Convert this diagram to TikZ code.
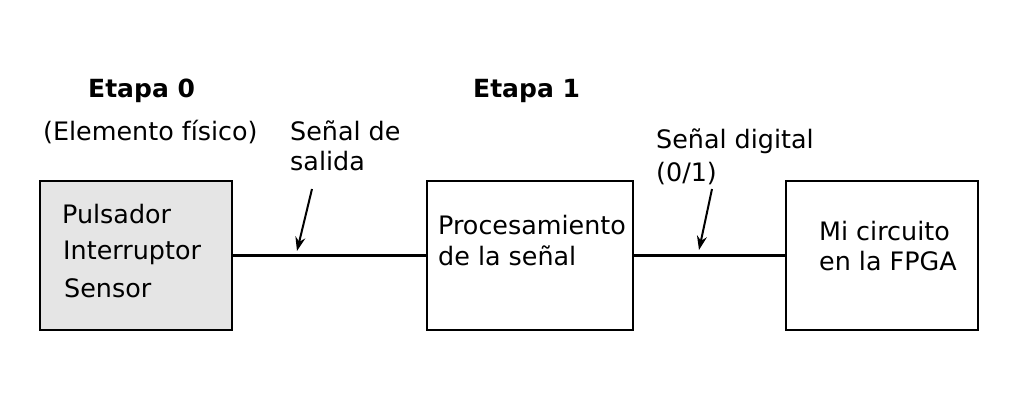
\documentclass[tikz,border=0pt]{standalone}
\usepackage{fontspec}
\setmainfont{DejaVu Sans}
\usetikzlibrary{arrows.meta}
\begin{document}
\begin{tikzpicture}[x=1pt,y=-1pt,
  box/.style={draw=black,line width=2pt,minimum width=#1,minimum height=149pt,inner sep=0pt},
  txt/.style={inner sep=0pt,anchor=base west,font=\fontsize{25.4}{30}\selectfont},
  ttl/.style={txt,font=\fontsize{25}{30}\selectfont\bfseries},
  wire/.style={line width=3pt},
  pointer/.style={line width=2pt,-{Stealth[length=14pt,width=10pt]}}]
\useasboundingbox (0,0) rectangle (1021,412);
\node[box=192pt,fill={rgb,255:red,229;green,229;blue,229}] (b1) at (136,255.5) {};
\node[box=206pt] (b2) at (530,255.5) {};
\node[box=192pt] (b3) at (882,255.5) {};
\draw[wire] (b1.east) -- (b2.west);
\draw[wire] (b2.east) -- (b3.west);
\node[ttl] (e0) at (88,98) {Etapa 0};
\node[ttl] (e1) at (473,98) {Etapa 1};
\node[txt] (ef) at (43,140) {(Elemento físico)};
\node[txt] (s1a) at (290,140) {Señal de};
\node[txt] (s1b) at (290,170) {salida};
\node[txt] (s2a) at (656,148) {Señal digital};
\node[txt] (s2b) at (656,181) {(0/1)};
\node[txt] (p1) at (62,223) {Pulsador};
\node[txt] (p2) at (63,259) {Interruptor};
\node[txt] (p3) at (64,297) {Sensor};
\node[txt] (q1) at (438,234) {Procesamiento};
\node[txt] (q2) at (438,265) {de la señal};
\node[txt] (m1) at (819,240) {Mi circuito};
\node[txt] (m2) at (819,270) {en la FPGA};
\coordinate (a1s) at (312,189);
\coordinate (a1e) at (297,251);
\coordinate (a2s) at (712,189);
\coordinate (a2e) at (699,250);
\draw[pointer] (a1s) -- (a1e);
\draw[pointer] (a2s) -- (a2e);
\end{tikzpicture}
\end{document}
